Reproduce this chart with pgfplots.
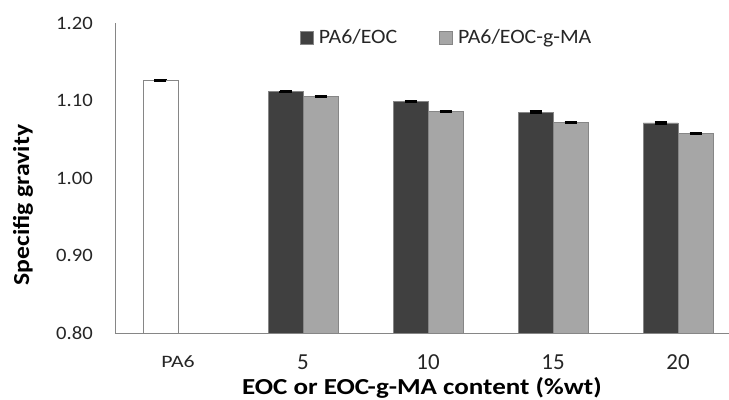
\documentclass[border=0pt]{standalone}
\usepackage{pgfplots}
\pgfplotsset{compat=1.18}
\usepackage{graphicx}
\usepackage{fontspec}
\setmainfont{Carlito}
\definecolor{darkbar}{HTML}{404040}
\definecolor{lightbar}{HTML}{A6A6A6}
\definecolor{axgray}{HTML}{868686}
\definecolor{txt}{HTML}{262626}
\begin{document}
\begin{tikzpicture}
\begin{axis}[
  scale only axis,
  width=614bp, height=310bp,
  xmin=-0.504, xmax=4.408,
  ymin=0.8, ymax=1.2,
  ytick={0.8,0.9,1.0,1.1,1.2},
  /pgf/number format/assume math mode=true,
  yticklabel={\scalebox{1.09}[1]{\pgfmathprintnumber[fixed,fixed zerofill,precision=2]{\tick}}},
  xtick={0,1,2,3,4},
  xticklabels={{\fontsize{17.5}{19}\selectfont\scalebox{1.25}[1]{PA6}},5,10,15,20},
  major tick length=0pt,
  axis x line=bottom, axis y line=left,
  axis line style={-, draw=axgray, line width=0.8pt},
  xticklabel style={font=\fontsize{23}{25}\selectfont, text=txt, anchor=center, inner sep=0pt, yshift=-29bp},
  yticklabel style={font=\fontsize{19}{21}\selectfont, text=txt, anchor=east, inner sep=0pt, xshift=-22bp},
  xlabel={\scalebox{1.18}[1]{\bfseries EOC or EOC-g-MA content (\%wt)}},
  ylabel={\scalebox{1.12}[1]{\bfseries Specifig gravity}},
  label style={font=\fontsize{23}{25}\selectfont, text=black, inner sep=0pt},
  xlabel style={at={(axis description cs:0.5,0)}, anchor=base, yshift=-61bp},
  ylabel style={at={(axis description cs:0,0.413)}, anchor=center, yshift=92bp},
  bar width=0.28,
  legend columns=2,
  legend style={draw=none, fill=none, inner sep=0pt, at={(axis description cs:0.3013,0.953)}, anchor=west,
    font=\fontsize{20.5}{22}\selectfont, text=txt,
    nodes={inner sep=0pt},
    /tikz/every odd column/.append style={column sep=5bp},
    /tikz/every even column/.append style={column sep=42bp}},
  legend image code/.code={\fill[#1] (0bp,-6.5bp) rectangle (13bp,6.5bp);},
  error bars/error bar style={black, line width=1pt},
  error bars/error mark=|,
  error bars/error mark options={mark size=6bp, line width=1.8pt, black},
]
\addplot[ybar, bar shift=0pt, fill=white, draw=axgray, line width=0.8pt, forget plot,
  error bars/.cd, y dir=both, y explicit]
  coordinates {(-0.14,1.126) +- (0,0.0012)};
\addplot[ybar, bar shift=0pt, fill=darkbar, draw=axgray, line width=0.8pt,
  error bars/.cd, y dir=both, y explicit]
  coordinates {(0.86,1.112) +- (0,0.001) (1.86,1.099) +- (0,0.001) (2.86,1.085) +- (0,0.001) (3.86,1.071) +- (0,0.001)};
\addlegendentry{\scalebox{1.07}[1]{PA6/EOC}}
\addplot[ybar, bar shift=0pt, fill=lightbar, draw=axgray, line width=0.8pt,
  error bars/.cd, y dir=both, y explicit]
  coordinates {(1.14,1.105) +- (0,0.0012) (2.14,1.086) +- (0,0.0008) (3.14,1.072) +- (0,0.001) (4.14,1.058) +- (0,0.0008)};
\addlegendentry{\scalebox{1.07}[1]{PA6/EOC-g-MA}}
\end{axis}
\pgfresetboundingbox
\path (-115bp,-67bp) rectangle (614bp,333bp);
\end{tikzpicture}
\end{document}
